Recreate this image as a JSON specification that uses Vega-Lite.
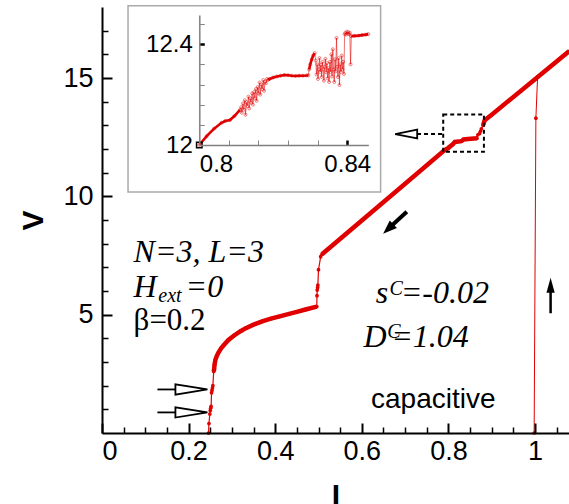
{
  "$schema": "https://vega.github.io/schema/vega-lite/v6.json",
  "width": 467,
  "height": 426,
  "autosize": {"type": "none"},
  "padding": {"left": 102, "top": 7, "right": 0, "bottom": 71},
  "background": "white",
  "config": {
    "view": {"stroke": null},
    "axis": {"labelFont": "Liberation Sans", "titleFont": "Liberation Sans", "grid": false, "labelColor": "black", "titleColor": "black", "domainColor": "black", "tickColor": "black"}
  },
  "datasets": {
    "mainPath": [
      {"I": 0.246, "V": 0}, {"I": 0.247, "V": 0.4}, {"I": 0.249, "V": 0.8}, {"I": 0.25, "V": 0.95}, {"I": 0.251, "V": 1.05}, {"I": 0.252, "V": 1.12},
      {"I": 0.253, "V": 1.7}, {"I": 0.254, "V": 1.8}, {"I": 0.255, "V": 1.9}, {"I": 0.256, "V": 2.0}, {"I": 0.258, "V": 2.6}, {"I": 0.259, "V": 2.7},
      {"I": 0.26, "V": 2.9}, {"I": 0.262, "V": 3.1}, {"I": 0.265, "V": 3.25}, {"I": 0.269, "V": 3.4}, {"I": 0.275, "V": 3.58}, {"I": 0.283, "V": 3.75},
      {"I": 0.292, "V": 3.93}, {"I": 0.305, "V": 4.12}, {"I": 0.32, "V": 4.3}, {"I": 0.331, "V": 4.42}, {"I": 0.35, "V": 4.58}, {"I": 0.37, "V": 4.72},
      {"I": 0.39, "V": 4.83}, {"I": 0.408, "V": 4.92}, {"I": 0.43, "V": 5.02}, {"I": 0.45, "V": 5.12}, {"I": 0.47, "V": 5.22}, {"I": 0.496, "V": 5.34},
      {"I": 0.4965, "V": 5.8}, {"I": 0.497, "V": 6.04}, {"I": 0.498, "V": 6.15}, {"I": 0.4985, "V": 6.25}, {"I": 0.5, "V": 6.9}, {"I": 0.505, "V": 7.45},
      {"I": 0.508, "V": 7.55}, {"I": 0.6, "V": 8.98}, {"I": 0.7, "V": 10.53}, {"I": 0.79, "V": 11.93}, {"I": 0.8, "V": 12.05}, {"I": 0.81, "V": 12.2},
      {"I": 0.815, "V": 12.3}, {"I": 0.83, "V": 12.33}, {"I": 0.835, "V": 12.4}, {"I": 0.845, "V": 12.42}, {"I": 0.866, "V": 12.45}, {"I": 0.868, "V": 12.6},
      {"I": 0.872, "V": 12.65}, {"I": 0.874, "V": 12.75}, {"I": 0.876, "V": 12.85}, {"I": 0.88, "V": 13.0}, {"I": 0.884, "V": 13.22}, {"I": 0.9, "V": 13.45},
      {"I": 1.0, "V": 14.95}, {"I": 1.0785, "V": 16.13}
    ],
    "mainThick": [
      {"s": "a", "I": 0.258, "V": 2.6}, {"s": "a", "I": 0.259, "V": 2.7}, {"s": "a", "I": 0.26, "V": 2.9}, {"s": "a", "I": 0.262, "V": 3.1}, {"s": "a", "I": 0.265, "V": 3.25},
      {"s": "a", "I": 0.269, "V": 3.4}, {"s": "a", "I": 0.275, "V": 3.58}, {"s": "a", "I": 0.283, "V": 3.75}, {"s": "a", "I": 0.292, "V": 3.93}, {"s": "a", "I": 0.305, "V": 4.12},
      {"s": "a", "I": 0.32, "V": 4.3}, {"s": "a", "I": 0.331, "V": 4.42}, {"s": "a", "I": 0.35, "V": 4.58}, {"s": "a", "I": 0.37, "V": 4.72}, {"s": "a", "I": 0.39, "V": 4.83},
      {"s": "a", "I": 0.408, "V": 4.92}, {"s": "a", "I": 0.43, "V": 5.02}, {"s": "a", "I": 0.45, "V": 5.12}, {"s": "a", "I": 0.47, "V": 5.22}, {"s": "a", "I": 0.496, "V": 5.34},
      {"s": "b", "I": 0.508, "V": 7.55}, {"s": "b", "I": 0.6, "V": 8.98}, {"s": "b", "I": 0.7, "V": 10.53}, {"s": "b", "I": 0.79, "V": 11.93}, {"s": "b", "I": 0.8, "V": 12.05},
      {"s": "b", "I": 0.81, "V": 12.2}, {"s": "b", "I": 0.815, "V": 12.3}, {"s": "b", "I": 0.83, "V": 12.33}, {"s": "b", "I": 0.835, "V": 12.4}, {"s": "b", "I": 0.845, "V": 12.42},
      {"s": "b", "I": 0.866, "V": 12.45},
      {"s": "c", "I": 0.88, "V": 13.0}, {"s": "c", "I": 0.884, "V": 13.22}, {"s": "c", "I": 0.9, "V": 13.45}, {"s": "c", "I": 1.0, "V": 14.95}, {"s": "c", "I": 1.0785, "V": 16.13}
    ],
    "vert": [{"I": 0.998, "V": 0}, {"I": 1.002, "V": 13.3}, {"I": 1.006, "V": 15.05}],
    "box": [{"I": 0.788, "I2": 0.882, "V": 11.88, "V2": 13.46}],
    "leftShafts": [{"I": 0.128, "I2": 0.17, "V": 1.84, "V2": 1.84}, {"I": 0.128, "I2": 0.17, "V": 0.87, "V2": 0.87}],
    "leftHeads": [{"I": 0.2065, "V": 1.84}, {"I": 0.2065, "V": 0.87}],
    "dashShaft": [{"I": 0.7275, "I2": 0.788, "V": 12.63, "V2": 12.63}],
    "dashHead": [{"I": 0.7025, "V": 12.63}],
    "diagShaft": [{"I": 0.704, "V": 9.35, "I2": 0.663, "V2": 8.66}],
    "diagHead": [{"I": 0.661, "V": 8.62}],
    "upShaft": [{"I": 1.036, "V": 5.06, "I2": 1.036, "V2": 6.05}],
    "upHead": [{"I": 1.036, "V": 6.24}],
    "txtItalic": [
      {"I": 0.073, "V": 7.24, "t": "N=3, L=3"}, {"I": 0.073, "V": 5.76, "t": "H"}, {"I": 0.193, "V": 5.76, "t": "=0"},
      {"I": 0.632, "V": 5.48, "t": "s"}, {"I": 0.69, "V": 5.48, "t": "=-0.02"}, {"I": 0.604, "V": 3.65, "t": "D"}, {"I": 0.668, "V": 3.65, "t": "=1.04"}
    ],
    "txtSmall": [{"I": 0.13, "V": 5.52, "t": "ext"}, {"I": 0.664, "V": 5.85, "t": "C"}, {"I": 0.659, "V": 4.03, "t": "C"}],
    "txtBeta": [{"I": 0.073, "V": 4.35, "t": "β=0.2"}],
    "txtCap": [{"I": 0.765, "V": 1.04, "t": "capacitive"}],
    "insetFrame": [{"I": 0.78073, "I2": 0.84903, "V": 11.8133, "V2": 12.5523}],
    "insetPath": [
      {"I": 0.8, "V": 12.0}, {"I": 0.802, "V": 12.035}, {"I": 0.804, "V": 12.065}, {"I": 0.806, "V": 12.088}, {"I": 0.807, "V": 12.095}, {"I": 0.8083, "V": 12.099}, {"I": 0.8095, "V": 12.115}, {"I": 0.811, "V": 12.139},
      {"I": 0.8113, "V": 12.15}, {"I": 0.8115, "V": 12.128}, {"I": 0.8118, "V": 12.165}, {"I": 0.812, "V": 12.14}, {"I": 0.8123, "V": 12.178}, {"I": 0.8125, "V": 12.12},
      {"I": 0.8128, "V": 12.17}, {"I": 0.813, "V": 12.155}, {"I": 0.8133, "V": 12.192}, {"I": 0.8135, "V": 12.145}, {"I": 0.8138, "V": 12.185}, {"I": 0.814, "V": 12.168},
      {"I": 0.8143, "V": 12.205}, {"I": 0.8145, "V": 12.16}, {"I": 0.8148, "V": 12.21}, {"I": 0.815, "V": 12.185}, {"I": 0.8153, "V": 12.222}, {"I": 0.8155, "V": 12.175},
      {"I": 0.8158, "V": 12.23}, {"I": 0.816, "V": 12.205}, {"I": 0.8163, "V": 12.248}, {"I": 0.8165, "V": 12.2}, {"I": 0.8168, "V": 12.24}, {"I": 0.817, "V": 12.222},
      {"I": 0.8173, "V": 12.258}, {"I": 0.8175, "V": 12.215}, {"I": 0.8178, "V": 12.25}, {"I": 0.818, "V": 12.245}, {"I": 0.8183, "V": 12.262}, {"I": 0.8186, "V": 12.258},
      {"I": 0.819, "V": 12.262}, {"I": 0.82, "V": 12.268}, {"I": 0.821, "V": 12.272}, {"I": 0.822, "V": 12.275}, {"I": 0.823, "V": 12.278}, {"I": 0.824, "V": 12.277},
      {"I": 0.825, "V": 12.275}, {"I": 0.826, "V": 12.274}, {"I": 0.827, "V": 12.275}, {"I": 0.828, "V": 12.275}, {"I": 0.829, "V": 12.276}, {"I": 0.8295, "V": 12.277},
      {"I": 0.8297, "V": 12.3}, {"I": 0.83, "V": 12.32}, {"I": 0.8304, "V": 12.34}, {"I": 0.8308, "V": 12.355}, {"I": 0.8312, "V": 12.365},
      {"I": 0.8315, "V": 12.335}, {"I": 0.8317, "V": 12.28}, {"I": 0.8319, "V": 12.32}, {"I": 0.8321, "V": 12.262}, {"I": 0.8323, "V": 12.3}, {"I": 0.8325, "V": 12.345},
      {"I": 0.8327, "V": 12.29}, {"I": 0.8329, "V": 12.318}, {"I": 0.8331, "V": 12.27}, {"I": 0.8333, "V": 12.33}, {"I": 0.8335, "V": 12.3}, {"I": 0.8337, "V": 12.255},
      {"I": 0.8339, "V": 12.31}, {"I": 0.8341, "V": 12.342}, {"I": 0.8343, "V": 12.288}, {"I": 0.8345, "V": 12.325}, {"I": 0.8347, "V": 12.265}, {"I": 0.8349, "V": 12.305},
      {"I": 0.8351, "V": 12.25}, {"I": 0.8353, "V": 12.33}, {"I": 0.8355, "V": 12.29}, {"I": 0.8357, "V": 12.36}, {"I": 0.8359, "V": 12.272}, {"I": 0.8361, "V": 12.38},
      {"I": 0.8363, "V": 12.3}, {"I": 0.8365, "V": 12.25}, {"I": 0.8367, "V": 12.34}, {"I": 0.8369, "V": 12.292}, {"I": 0.8371, "V": 12.425}, {"I": 0.8373, "V": 12.31},
      {"I": 0.8375, "V": 12.27}, {"I": 0.8377, "V": 12.345}, {"I": 0.8379, "V": 12.238}, {"I": 0.8381, "V": 12.32}, {"I": 0.8383, "V": 12.29}, {"I": 0.8385, "V": 12.355},
      {"I": 0.8387, "V": 12.3}, {"I": 0.8389, "V": 12.33}, {"I": 0.8391, "V": 12.282}, {"I": 0.8393, "V": 12.44}, {"I": 0.8395, "V": 12.445}, {"I": 0.8397, "V": 12.438},
      {"I": 0.8399, "V": 12.45}, {"I": 0.8401, "V": 12.442}, {"I": 0.8403, "V": 12.448}, {"I": 0.8405, "V": 12.44}, {"I": 0.8407, "V": 12.445}, {"I": 0.8409, "V": 12.32},
      {"I": 0.8411, "V": 12.432}, {"I": 0.842, "V": 12.433}, {"I": 0.843, "V": 12.434}, {"I": 0.844, "V": 12.436}, {"I": 0.845, "V": 12.438}, {"I": 0.8457, "V": 12.44}
    ],
    "insetThick": [
      {"s": "a", "I": 0.8, "V": 12.0}, {"s": "a", "I": 0.802, "V": 12.035}, {"s": "a", "I": 0.804, "V": 12.065}, {"s": "a", "I": 0.806, "V": 12.088}, {"s": "a", "I": 0.807, "V": 12.095},
      {"s": "a", "I": 0.8083, "V": 12.099}, {"s": "a", "I": 0.8095, "V": 12.115}, {"s": "a", "I": 0.811, "V": 12.139},
      {"s": "b", "I": 0.8186, "V": 12.258}, {"s": "b", "I": 0.819, "V": 12.262}, {"s": "b", "I": 0.82, "V": 12.268}, {"s": "b", "I": 0.821, "V": 12.272}, {"s": "b", "I": 0.822, "V": 12.275},
      {"s": "b", "I": 0.823, "V": 12.278}, {"s": "b", "I": 0.824, "V": 12.277}, {"s": "b", "I": 0.825, "V": 12.275}, {"s": "b", "I": 0.826, "V": 12.274}, {"s": "b", "I": 0.827, "V": 12.275},
      {"s": "b", "I": 0.828, "V": 12.275}, {"s": "b", "I": 0.829, "V": 12.276}, {"s": "b", "I": 0.8295, "V": 12.277},
      {"s": "c", "I": 0.8297, "V": 12.3}, {"s": "c", "I": 0.83, "V": 12.32}, {"s": "c", "I": 0.8304, "V": 12.34}, {"s": "c", "I": 0.8308, "V": 12.355}, {"s": "c", "I": 0.8312, "V": 12.365},
      {"s": "d", "I": 0.8411, "V": 12.432}, {"s": "d", "I": 0.842, "V": 12.433}, {"s": "d", "I": 0.843, "V": 12.434}, {"s": "d", "I": 0.844, "V": 12.436}, {"s": "d", "I": 0.845, "V": 12.438}, {"s": "d", "I": 0.8457, "V": 12.44}
    ],
    "insetStart": [{"I": 0.8, "V": 12.0}]
  },
  "layer": [
    {
      "encoding": {
        "x": {"field": "I", "type": "quantitative", "scale": {"domain": [0, 1.0785], "nice": false, "zero": false},
          "axis": {"orient": "bottom", "values": [0, 0.2, 0.4, 0.6, 0.8, 1], "format": "~g", "tickSize": -10, "tickWidth": 2, "domainWidth": 2, "labelFontSize": 27, "labelPadding": 15, "title": "I", "titleFontSize": 30, "titleFontWeight": "bold", "titlePadding": 16, "zindex": 1}},
        "y": {"field": "V", "type": "quantitative", "scale": {"domain": [0, 18], "nice": false, "zero": false},
          "axis": {"orient": "left", "values": [5, 10, 15], "tickSize": -10, "tickWidth": 2, "domainWidth": 2, "labelFontSize": 27, "labelPadding": 19, "title": "V", "titleFontSize": 30, "titleFontWeight": "bold", "titlePadding": 14, "zindex": 1}}
      },
      "layer": [
        {"data": {"name": "mainPath"}, "mark": {"type": "line", "color": "#e00000", "strokeWidth": 1.2}},
        {"data": {"name": "mainPath"}, "mark": {"type": "point", "filled": true, "color": "#e00000", "size": 14, "opacity": 1}},
        {"data": {"name": "mainThick"}, "mark": {"type": "line", "color": "#e00000", "strokeWidth": 4.5}, "encoding": {"detail": {"field": "s"}}},
        {"data": {"name": "vert"}, "mark": {"type": "line", "color": "#e00000", "strokeWidth": 1}},
        {"data": {"name": "vert"}, "mark": {"type": "point", "filled": true, "color": "#e00000", "size": 14, "opacity": 1}},
        {"data": {"name": "box"}, "mark": {"type": "rect", "fill": null, "fillOpacity": 0, "stroke": "black", "strokeWidth": 2, "strokeDash": [4, 3]}, "encoding": {"x2": {"field": "I2"}, "y2": {"field": "V2"}}},
        {"data": {"name": "leftShafts"}, "mark": {"type": "rule", "color": "black", "strokeWidth": 1.8}, "encoding": {"x2": {"field": "I2"}, "y2": {"field": "V2"}}},
        {"data": {"name": "leftHeads"}, "mark": {"type": "point", "shape": "M1,0L-1,-0.32L-1,0.32Z", "size": 1024, "fill": "white", "stroke": "black", "strokeWidth": 1.8, "opacity": 1}},
        {"data": {"name": "dashShaft"}, "mark": {"type": "rule", "color": "black", "strokeWidth": 2, "strokeDash": [4, 3]}, "encoding": {"x2": {"field": "I2"}, "y2": {"field": "V2"}}},
        {"data": {"name": "dashHead"}, "mark": {"type": "point", "shape": "M-1,0L1,-0.4L1,0.4Z", "size": 484, "fill": "white", "stroke": "black", "strokeWidth": 1.8, "opacity": 1}},
        {"data": {"name": "diagShaft"}, "mark": {"type": "rule", "color": "black", "strokeWidth": 4}, "encoding": {"x2": {"field": "I2"}, "y2": {"field": "V2"}}},
        {"data": {"name": "diagHead"}, "mark": {"type": "point", "shape": "M1,0L-1,-0.75L-1,0.75Z", "size": 196, "filled": true, "color": "black", "angle": 137, "opacity": 1}},
        {"data": {"name": "upShaft"}, "mark": {"type": "rule", "color": "black", "strokeWidth": 2.5}, "encoding": {"x2": {"field": "I2"}, "y2": {"field": "V2"}}},
        {"data": {"name": "upHead"}, "mark": {"type": "point", "shape": "M1,0L-1,-0.55L-1,0.55Z", "size": 225, "filled": true, "color": "black", "angle": 270, "opacity": 1}},
        {"data": {"name": "txtItalic"}, "mark": {"type": "text", "font": "Liberation Serif", "fontStyle": "italic", "fontSize": 32, "align": "left", "baseline": "alphabetic", "color": "black"}, "encoding": {"text": {"field": "t"}}},
        {"data": {"name": "txtSmall"}, "mark": {"type": "text", "font": "Liberation Serif", "fontStyle": "italic", "fontSize": 20, "align": "left", "baseline": "alphabetic", "color": "black"}, "encoding": {"text": {"field": "t"}}},
        {"data": {"name": "txtBeta"}, "mark": {"type": "text", "font": "Liberation Serif", "fontSize": 31, "align": "left", "baseline": "alphabetic", "color": "black"}, "encoding": {"text": {"field": "t"}}},
        {"data": {"name": "txtCap"}, "mark": {"type": "text", "font": "Liberation Sans", "fontSize": 28, "align": "center", "baseline": "alphabetic", "color": "black"}, "encoding": {"text": {"field": "t"}}}
      ]
    },
    {
      "data": {"values": [{"I": 0, "V": 0}]},
      "mark": {"type": "point", "opacity": 0},
      "encoding": {
        "x": {"field": "I", "type": "quantitative", "scale": {"domain": [0, 1.0785], "nice": false, "zero": false},
          "axis": {"orient": "bottom", "values": [0.05, 0.1, 0.15, 0.25, 0.3, 0.35, 0.45, 0.5, 0.55, 0.65, 0.7, 0.75, 0.85, 0.9, 0.95, 1.05], "labels": false, "domain": false, "tickSize": -6, "tickWidth": 1.5, "title": null, "zindex": 1}},
        "y": {"field": "V", "type": "quantitative", "scale": {"domain": [0, 18], "nice": false, "zero": false},
          "axis": {"orient": "left", "values": [1, 2, 3, 4, 6, 7, 8, 9, 11, 12, 13, 14, 16, 17], "labels": false, "domain": false, "tickSize": -6, "tickWidth": 1.5, "title": null, "zindex": 1}}
      }
    },
    {
      "encoding": {
        "x": {"field": "I", "type": "quantitative", "scale": {"domain": [0.8, 0.8457], "range": [97.3, 266.3], "nice": false, "zero": false},
          "axis": {"orient": "bottom", "offset": -288, "values": [0.8, 0.808, 0.816, 0.824, 0.832, 0.84], "format": "~g", "labelExpr": "datum.value == 0.8 || datum.value == 0.84 ? datum.label : ''",
            "tickSize": -5, "tickWidth": {"condition": {"test": "datum.value == 0.84", "value": 2.5}, "value": 1}, "tickColor": {"condition": {"test": "datum.value == 0.84", "value": "black"}, "value": "#888888"},
            "domainColor": "#808080", "domainWidth": 1.5, "labelFontSize": 24, "labelPadding": 12, "title": null, "zindex": 2}},
        "y": {"field": "V", "type": "quantitative", "scale": {"domain": [12, 12.516], "range": [138, 8], "nice": false, "zero": false},
          "axis": {"orient": "left", "offset": -97.3, "values": [12, 12.08, 12.16, 12.24, 12.32, 12.4, 12.48], "format": "~g", "labelExpr": "datum.value == 12 || datum.value == 12.4 ? datum.label : ''",
            "tickSize": -5, "tickWidth": {"condition": {"test": "datum.value == 12.4", "value": 2.5}, "value": 1}, "tickColor": {"condition": {"test": "datum.value == 12.4", "value": "black"}, "value": "#888888"},
            "domainColor": "#808080", "domainWidth": 1.5, "labelFontSize": 24, "labelPadding": 12, "title": null, "zindex": 2}}
      },
      "layer": [
        {"data": {"name": "insetFrame"}, "mark": {"type": "rect", "fill": "white", "stroke": "#aaaaaa", "strokeWidth": 1.5}, "encoding": {"x2": {"field": "I2"}, "y2": {"field": "V2"}}},
        {"data": {"name": "insetPath"}, "mark": {"type": "line", "color": "#e00000", "strokeWidth": 0.8, "opacity": 0.7}},
        {"data": {"name": "insetPath"}, "mark": {"type": "point", "filled": false, "color": "#e00000", "size": 9, "strokeWidth": 0.7, "opacity": 0.7}},
        {"data": {"name": "insetThick"}, "mark": {"type": "line", "color": "#e00000", "strokeWidth": 2.6}, "encoding": {"detail": {"field": "s"}}},
        {"data": {"name": "insetStart"}, "mark": {"type": "point", "shape": "square", "filled": false, "color": "black", "size": 30, "strokeWidth": 1.5, "opacity": 1}}
      ]
    }
  ],
  "resolve": {"scale": {"x": "independent", "y": "independent"}, "axis": {"x": "independent", "y": "independent"}}
}
